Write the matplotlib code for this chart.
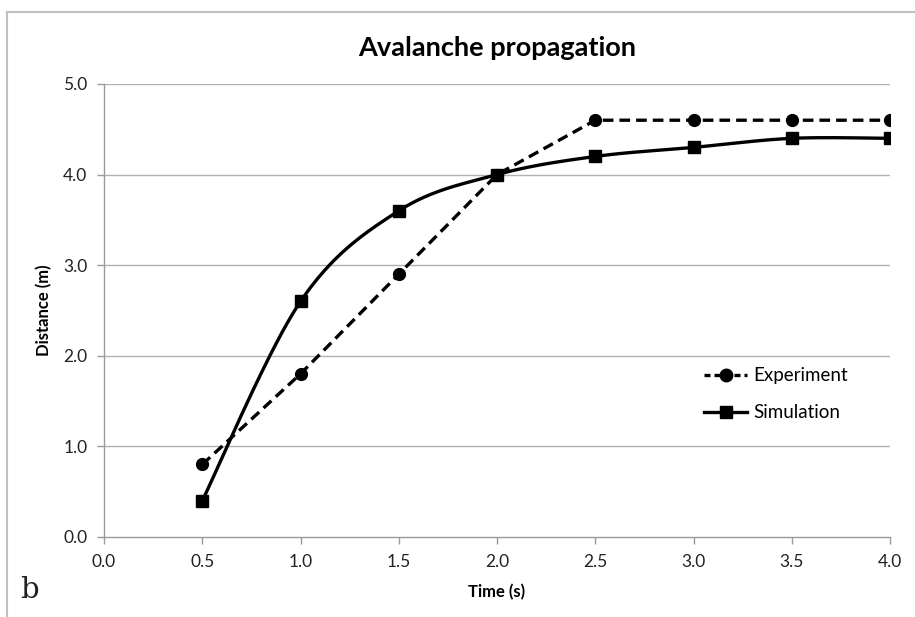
import numpy as np
import matplotlib
matplotlib.use('Agg')
import matplotlib.pyplot as plt
from matplotlib.lines import Line2D

# data
time = [0.5, 1.0, 1.5, 2.0, 2.5, 3.0, 3.5, 4.0]
experiment = [0.8, 1.8, 2.9, 4.0, 4.6, 4.6, 4.6, 4.6]
simulation = [0.4, 2.6, 3.6, 4.0, 4.2, 4.3, 4.4, 4.4]
x_ticks = [0.0, 0.5, 1.0, 1.5, 2.0, 2.5, 3.0, 3.5, 4.0]
y_ticks = [0.0, 1.0, 2.0, 3.0, 4.0, 5.0]


def smooth_line(x, y, n=40):
    # Excel style smoothed line: cubic bezier through points
    x = np.asarray(x, float)
    y = np.asarray(y, float)
    P = np.column_stack([x, y])
    out = []
    for i in range(len(P) - 1):
        p0 = P[i - 1] if i > 0 else P[i]
        p1 = P[i]
        p2 = P[i + 1]
        p3 = P[i + 2] if i + 2 < len(P) else P[i + 1]
        c1 = p1 + (p2 - p0) / 6.0
        c2 = p2 - (p3 - p1) / 6.0
        t = np.linspace(0, 1, n)[:, None]
        seg = ((1 - t) ** 3) * p1 + 3 * ((1 - t) ** 2) * t * c1 \
            + 3 * (1 - t) * t ** 2 * c2 + t ** 3 * p2
        out.append(seg if i == 0 else seg[1:])
    out = np.vstack(out)
    return out[:, 0], out[:, 1]


plt.rcParams['font.family'] = ['Lato', 'DejaVu Sans']

fig = plt.figure(figsize=(9.15, 6.17), dpi=100)
ax = fig.add_axes([0.1137, 0.1297, 0.859, 0.7342])

grid_c = '#b0b0b0'
for yv in y_ticks[1:]:
    ax.axhline(yv, color=grid_c, lw=1.0, zorder=0)

ax.plot(time, experiment, color='black', lw=2.4, ls=(0, (3.2, 1.8)),
        marker='o', ms=8.5, zorder=3)
sx, sy = smooth_line(time, simulation)
ax.plot(sx, sy, color='black', lw=2.4, zorder=3)
ax.plot(time, simulation, ls='none', color='black', marker='s', ms=9, zorder=4)

ax.set_xlim(0, 4.0)
ax.set_ylim(0, 5.0)
ax.set_xticks(x_ticks)
ax.set_yticks(y_ticks)
ax.set_xticklabels([f'{v:.1f}' for v in x_ticks])
ax.set_yticklabels([f'{v:.1f}' for v in y_ticks])

for s in ['top', 'right']:
    ax.spines[s].set_visible(False)
for s in ['left', 'bottom']:
    ax.spines[s].set_color('#9a9a9a')
    ax.spines[s].set_linewidth(1.0)
ax.tick_params(axis='both', colors='#9a9a9a', length=5, width=1.0,
               labelsize=12.5, labelcolor='#222222', pad=7)

ax.set_xlabel('Time (s)', fontsize=12, fontweight='bold', labelpad=10)
ax.set_ylabel('Distance (m)', fontsize=12, fontweight='bold', labelpad=8)
ax.set_title('Avalanche propagation', fontsize=19.5, fontweight='bold', pad=20)

handles = [
    Line2D([], [], color='black', lw=2.4, ls=(0, (1.8, 1.2)), marker='o', ms=9),
    Line2D([], [], color='black', lw=2.4, marker='s', ms=9),
]
ax.legend(handles, ['Experiment', 'Simulation'], loc='center left',
          bbox_to_anchor=(0.742, 0.315), frameon=False, fontsize=13.5,
          handlelength=2.3, handletextpad=0.3, labelspacing=1.05)

fig.text(0.022, 0.03, 'b', fontsize=21, family='DejaVu Serif', color='#222222')

# figure border (top and left edges visible in source)
fig.add_artist(Line2D([0.008, 1.0], [0.981, 0.981], color='#c0c0c0', lw=1.5,
                      transform=fig.transFigure))
fig.add_artist(Line2D([0.008, 0.008], [0.0, 0.981], color='#c0c0c0', lw=1.5,
                      transform=fig.transFigure))

fig.savefig('out.png', dpi=100, facecolor='white')
